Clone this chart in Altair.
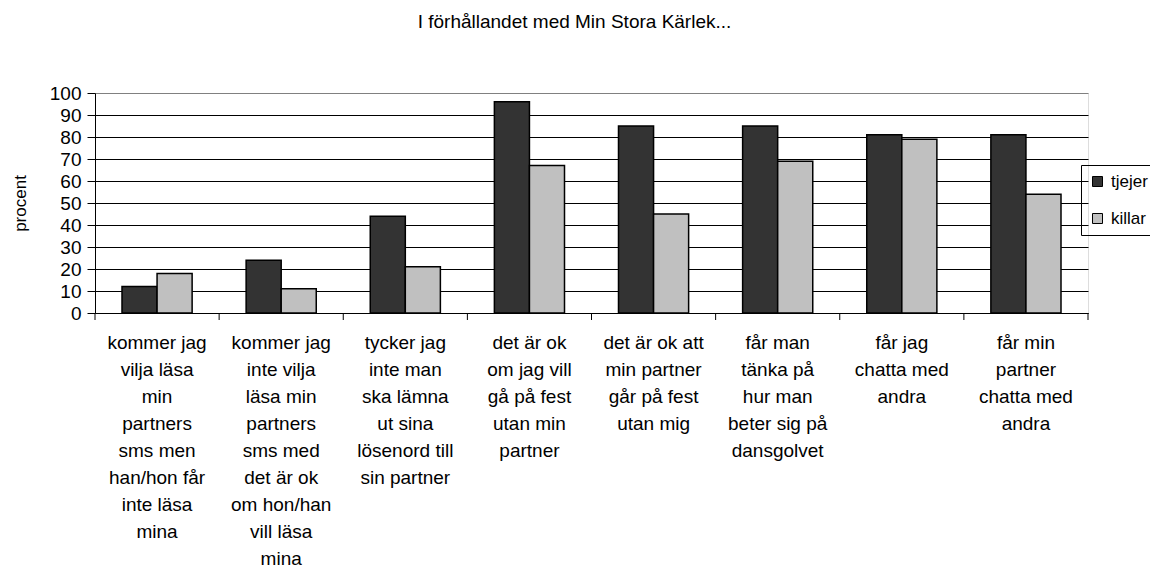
import altair as alt
import pandas as pd

categories = [
    "kommer jag|vilja läsa|min|partners|sms men|han/hon får|inte läsa|mina",
    "kommer jag|inte vilja|läsa min|partners|sms med|det är ok|om hon/han|vill läsa|mina",
    "tycker jag|inte man|ska lämna|ut sina|lösenord till|sin partner",
    "det är ok|om jag vill|gå på fest|utan min|partner",
    "det är ok att|min partner|går på fest|utan mig",
    "får man|tänka på|hur man|beter sig på|dansgolvet",
    "får jag|chatta med|andra",
    "får min|partner|chatta med|andra",
]
tjejer = [12, 24, 44, 96, 85, 85, 81, 81]
killar = [18, 11, 21, 67, 45, 69, 79, 54]
series = ["tjejer", "killar"]
colors = ["#333333", "#c0c0c0"]
y_ticks = [0, 10, 20, 30, 40, 50, 60, 70, 80, 90, 100]

rows = []
for c, t, k in zip(categories, tjejer, killar):
    rows.append({"kategori": c, "grupp": "tjejer", "procent": t})
    rows.append({"kategori": c, "grupp": "killar", "procent": k})
df = pd.DataFrame(rows)
cat_df = pd.DataFrame({"kategori": categories})
edge_df = pd.DataFrame({"e": [1]})

W, H = 993, 220
FONT = "Liberation Sans"

x_scale = alt.Scale(paddingInner=0, paddingOuter=0)
x_axis = alt.Axis(
    title=None,
    labelExpr="split(datum.label, '|')",
    labelAngle=0,
    labelFont=FONT,
    labelFontSize=19,
    labelLineHeight=27,
    labelPadding=20,
    labelColor="black",
    labelLimit=300,
    labelOverlap=False,
    ticks=False,
    domainColor="black",
    domainWidth=1,
    grid=False,
)

bars = alt.Chart(df).mark_bar(stroke="black", strokeWidth=1.5).encode(
    x=alt.X("kategori:N", sort=categories, scale=x_scale, axis=x_axis),
    xOffset=alt.XOffset(
        "grupp:N", sort=series, scale=alt.Scale(paddingInner=0, paddingOuter=0.77)
    ),
    y=alt.Y(
        "procent:Q",
        scale=alt.Scale(domain=[0, 100], nice=False),
        axis=alt.Axis(
            values=y_ticks,
            title="procent",
            titleFont=FONT,
            titleFontSize=17,
            titleFontWeight="normal",
            titleColor="black",
            titleX=-75,
            titleY=H / 2,
            titleAlign="center",
            titleBaseline="middle",
            labelFont=FONT,
            labelFontSize=19,
            labelColor="black",
            labelPadding=6,
            tickColor="black",
            tickSize=8,
            domainColor="black",
            gridColor={"condition": {"test": "datum.value == 100", "value": "#808080"}, "value": "black"},
            gridWidth=1,
        ),
    ),
    color=alt.Color(
        "grupp:N",
        sort=series,
        scale=alt.Scale(domain=series, range=colors),
        legend=alt.Legend(
            title=None,
            orient="none",
            legendX=986,
            legendY=72,
            strokeColor="black",
            padding=8,
            symbolType="square",
            symbolSize=100,
            symbolStrokeColor="black",
            symbolStrokeWidth=1,
            labelFont=FONT,
            labelFontSize=17,
            labelColor="black",
            labelOffset=5,
            rowPadding=19,
        ),
    ),
)

ticks = alt.Chart(cat_df).mark_rule(color="black", strokeWidth=1).encode(
    x=alt.X("kategori:N", sort=categories, bandPosition=0, scale=x_scale, axis=x_axis),
    y=alt.value(H),
    y2=alt.value(H + 7),
)

edge = alt.Chart(edge_df).mark_rule(color="black", strokeWidth=1).encode(
    x=alt.value(W),
    y=alt.value(H),
    y2=alt.value(H + 7),
)

chart = (
    alt.layer(bars, ticks, edge)
    .properties(
        width=W,
        height=H,
        title=alt.TitleParams(
            "I förhållandet med Min Stora Kärlek...",
            font=FONT,
            fontSize=19,
            fontWeight="normal",
            color="black",
            anchor="middle",
            dx=-17,
            offset=52,
        ),
        autosize=alt.AutoSizeParams(type="none"),
        padding={"left": 87, "top": 85, "right": 62, "bottom": 262},
    )
    .configure_view(stroke="#808080", strokeWidth=1)
    .configure(background="white")
)

chart.save("out.html", embed_options={"renderer": "svg", "actions": False})
